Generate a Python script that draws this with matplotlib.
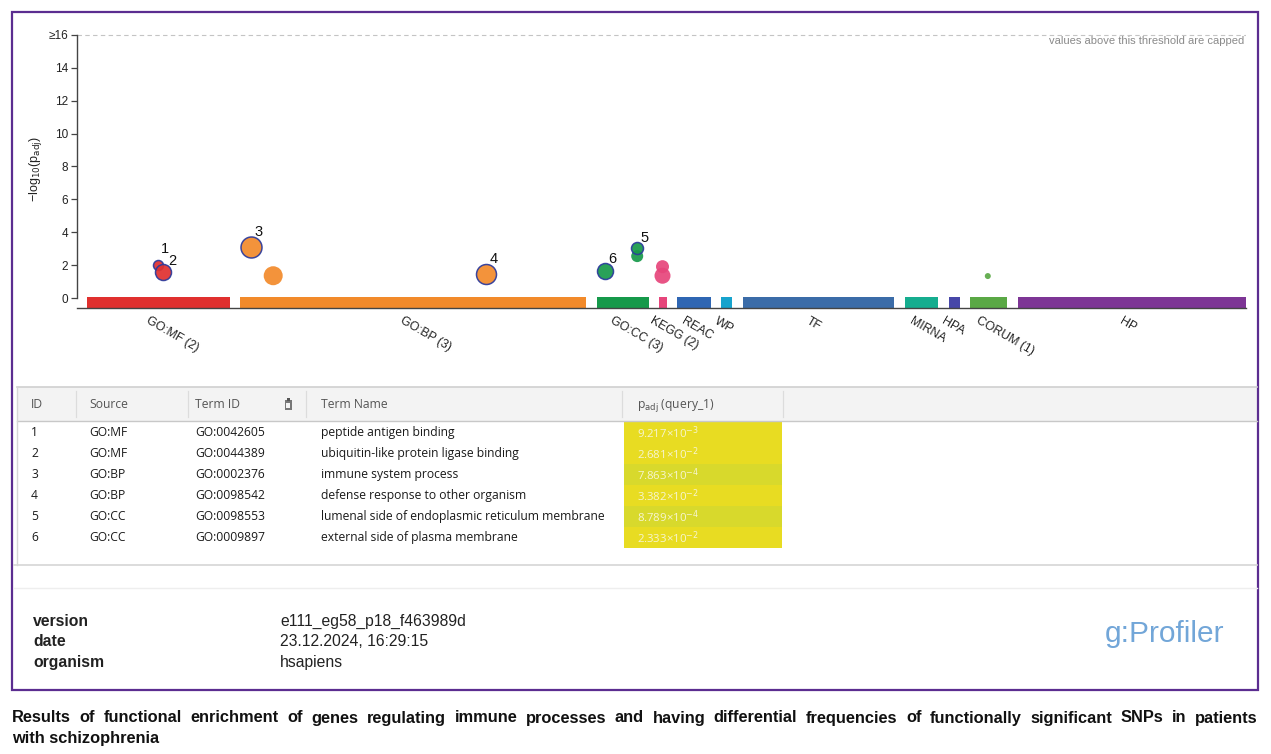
import matplotlib
matplotlib.use('Agg')
import matplotlib.pyplot as plt
from matplotlib.patches import Rectangle

W, H, DPI = 1271, 754, 100

# ---------------- data ----------------
sources = ['GO:MF', 'GO:BP', 'GO:CC', 'KEGG', 'REAC', 'WP', 'TF', 'MIRNA', 'HPA', 'CORUM', 'HP']
source_labels = ['GO:MF (2)', 'GO:BP (3)', 'GO:CC (3)', 'KEGG (2)', 'REAC', 'WP', 'TF',
                 'MIRNA', 'HPA', 'CORUM (1)', 'HP']
source_start = [10, 163, 520, 582, 600, 644, 666, 828, 872, 893, 941]
source_end = [153, 509, 572, 590, 634, 655, 817, 861, 883, 930, 1169]
source_colors = ['#e0302e', '#f28a2a', '#16994a', '#e6457b', '#2f66b3', '#17a3cd',
                 '#3b6ca8', '#15ad8f', '#4747a8', '#5aa845', '#7d3595']

term_source = ['GO:MF', 'GO:MF', 'GO:BP', 'GO:BP', 'GO:BP', 'GO:CC', 'GO:CC', 'GO:CC',
               'KEGG', 'KEGG', 'CORUM']
term_pos = [81.7, 86.3, 174.7, 196.7, 409.3, 528.7, 560.7, 560.7, 586.0, 586.0, 911.3]
term_value = [2.04, 1.57, 3.10, 1.37, 1.47, 1.63, 3.06, 2.56, 1.92, 1.37, 1.35]
term_size = [10, 16, 21, 19, 20, 16, 12, 12, 13, 16, 6]
term_label = ['1', '2', '3', '', '4', '6', '5', '', '', '', '']

y_ticks = [0, 2, 4, 6, 8, 10, 12, 14, 16]
y_ticklabels = ['0', '2', '4', '6', '8', '10', '12', '14', '\u226516']

table_ids = ['1', '2', '3', '4', '5', '6']
table_sources = ['GO:MF', 'GO:MF', 'GO:BP', 'GO:BP', 'GO:CC', 'GO:CC']
table_term_ids = ['GO:0042605', 'GO:0044389', 'GO:0002376', 'GO:0098542',
                  'GO:0098553', 'GO:0009897']
table_term_names = ['peptide antigen binding', 'ubiquitin-like protein ligase binding',
                    'immune system process', 'defense response to other organism',
                    'lumenal side of endoplasmic reticulum membrane',
                    'external side of plasma membrane']
table_padj_mant = ['9.217', '2.681', '7.863', '3.382', '8.789', '2.333']
table_padj_exp = [-3, -2, -4, -2, -4, -2]

footer_keys = ['version', 'date', 'organism']
footer_values = ['e111_eg58_p18_f463989d', '23.12.2024, 16:29:15', 'hsapiens']
caption_lines = ['Results of functional enrichment of genes regulating immune processes and having '
                 'differential frequencies of functionally significant SNPs in patients',
                 'with schizophrenia']

# ---------------- figure ----------------
plt.rcParams['font.family'] = ['Liberation Sans', 'DejaVu Sans']
fig = plt.figure(figsize=(W / DPI, H / DPI), dpi=DPI)
fig.patch.set_facecolor('white')

bg = fig.add_axes([0, 0, 1, 1], zorder=0)
bg.set_xlim(0, W)
bg.set_ylim(H, 0)
bg.axis('off')

# main Manhattan-plot axes (pixel layout)
ax_l, ax_r, ax_t, ax_b = 76.5, 1245.5, 30.0, 308.3
ax = fig.add_axes([ax_l / W, 1 - ax_b / H, (ax_r - ax_l) / W, (ax_b - ax_t) / H], zorder=2)
ax.patch.set_alpha(0)
px_per_unit = (298.3 - 34.7) / 16.0
ax.set_xlim(0, ax_r - ax_l)
ax.set_ylim(-(ax_b - 298.3) / px_per_unit, 16 + (34.7 - ax_t) / px_per_unit)

for s in ['top', 'right']:
    ax.spines[s].set_visible(False)
ax.spines['left'].set_bounds(0, 16)
ax.spines['left'].set_color('#444444')
ax.spines['left'].set_linewidth(1.0)
ax.spines['bottom'].set_color('#444444')
ax.spines['bottom'].set_linewidth(1.0)
ax.set_xticks([])
ax.set_yticks(y_ticks)
ax.set_yticklabels(y_ticklabels)
ax.tick_params(axis='y', direction='out', length=4, width=0.9, color='#444444',
               labelsize=8.5, labelcolor='#222222', pad=2)
ax.set_ylabel('\u2212log$_{10}$(p$_{\\mathrm{adj}}$)', fontsize=9, color='#222222', labelpad=3)

# source bars
for st, en, c in zip(source_start, source_end, source_colors):
    ax.bar(st, 0.62, width=en - st, bottom=-0.56, align='edge', color=c, linewidth=0, zorder=2)

# source labels
for st, en, lab in zip(source_start, source_end, source_labels):
    ax.annotate(lab, xy=((st + en) / 2, ax.get_ylim()[0]), xycoords='data',
                xytext=(-11 * 0.72, -12 * 0.72), textcoords='offset points',
                rotation=-30, rotation_mode='anchor', ha='left', va='center',
                fontsize=8.8, color='#222222', annotation_clip=False)

# threshold line + note
ax.axhline(16, color='#c4c4c4', lw=0.8, ls=(0, (4, 3)), zorder=1)
ax.annotate('values above this threshold are capped', xy=(1, 16), xycoords=('axes fraction', 'data'),
            xytext=(-1, -6 * 0.72), textcoords='offset points', ha='right', va='center',
            fontsize=8, color='#8a8a8a')

# points
color_of = dict(zip(sources, source_colors))
label_nudge = {'1': (3.0, 12.0), '2': (5.8, 7.5), '3': (3.6, 11.0), '4': (3.4, 10.7),
               '5': (3.3, 6.0), '6': (2.6, 8.0)}
order = [i for i in range(len(term_pos)) if not term_label[i]] + \
        [i for i in range(len(term_pos)) if term_label[i]]
for k, i in enumerate(order):
    lab = term_label[i]
    ax.scatter([term_pos[i]], [term_value[i]], s=(term_size[i] * 0.72) ** 2,
               color=color_of[term_source[i]], alpha=0.92,
               edgecolors='#2b3a9c' if lab else 'none', linewidths=1.1 if lab else 0,
               zorder=3 + k)
for i, lab in enumerate(term_label):
    if lab:
        dx, dy = label_nudge[lab]
        ax.annotate(lab, xy=(term_pos[i], term_value[i]), xytext=(dx * 0.72, dy * 0.72),
                    textcoords='offset points', ha='left', va='baseline', fontsize=10.5,
                    color='#111111', zorder=20)

# ---------------- table ----------------
tfont = ['Open Sans', 'DejaVu Sans']
bg.add_patch(Rectangle((17, 387), 1257 - 17, 421 - 387, facecolor='#f3f3f3', edgecolor='none'))
bg.plot([17, 1257], [387, 387], color='#cfcfcf', lw=1.2)
bg.plot([17, 1257], [421, 421], color='#c8c8c8', lw=1.0)
bg.plot([17, 17], [387, 565], color='#d6d6d6', lw=1.0)
bg.plot([14, 1257], [565, 565], color='#d6d6d6', lw=1.2)
bg.plot([14, 1257], [588, 588], color='#eeeeee', lw=1.0)
for xs in [76, 188, 306, 622, 783]:
    bg.plot([xs, xs], [391, 417], color='#dcdcdc', lw=0.9)

col_x = [31, 89, 195, 321, 637]
headers = ['ID', 'Source', 'Term ID', 'Term Name', 'p$_{\\mathrm{adj}}$ (query_1)']
for x, h in zip(col_x, headers):
    bg.text(x, 405, h, ha='left', va='center', fontsize=8.7, color='#555555', family=tfont)
# small clipboard icon in header
bg.add_patch(Rectangle((284.5, 400), 7, 10, facecolor='#777777', edgecolor='none'))
bg.add_patch(Rectangle((286.5, 398), 3, 3, facecolor='#555555', edgecolor='none'))
bg.add_patch(Rectangle((286, 403), 4, 5, facecolor='#f3f3f3', edgecolor='none'))

row_h = 21
for i in range(len(table_ids)):
    y0 = 422 + i * row_h
    yc = y0 + row_h / 2
    strong = 10.0 ** table_padj_exp[i] < 1e-3
    bg.add_patch(Rectangle((624, y0), 782 - 624, row_h,
                           facecolor='#d8d92c' if strong else '#e8dc22', edgecolor='none'))
    for x, txt in zip(col_x[:4], [table_ids[i], table_sources[i], table_term_ids[i],
                                  table_term_names[i]]):
        bg.text(x, yc, txt, ha='left', va='center', fontsize=8.7, color='#1a1a1a', family=tfont)
    bg.text(637, yc, '%s\u00d710$^{%d}$' % (table_padj_mant[i], table_padj_exp[i]),
            ha='left', va='center', fontsize=8.2, color='#f7f5d0', family=tfont)

# ---------------- footer ----------------
for k, (key, val) in enumerate(zip(footer_keys, footer_values)):
    y = 621 + k * 20.5
    bg.text(33, y, key, ha='left', va='center', fontsize=11.3, fontweight='bold', color='#222222')
    bg.text(280, y, val, ha='left', va='center', fontsize=11.3, color='#222222')
bg.text(1105, 634, 'g:Profiler', ha='left', va='center', fontsize=21.5, color='#72a6d8')

# purple frame
bg.add_patch(Rectangle((12, 12), 1258 - 12, 690 - 12, facecolor='none', edgecolor='#5b2d90', lw=1.6))

# ---------------- caption (justified first line) ----------------
renderer = fig.canvas.get_renderer()
cap_size = 11.8
words = caption_lines[0].split()
probe = bg.text(0, 0, ' '.join(words), fontsize=cap_size, fontweight='bold')
natural = probe.get_window_extent(renderer).width
probe.remove()
if natural > 1246 * 0.985:
    cap_size *= 1246 * 0.985 / natural
texts = [bg.text(0, 722.5, w, ha='left', va='baseline', fontsize=cap_size, fontweight='bold',
                 color='#111111') for w in words]
widths = [t.get_window_extent(renderer).width for t in texts]
gap = (1258 - 12 - sum(widths)) / (len(words) - 1)
x = 12
for t, wd in zip(texts, widths):
    t.set_x(x)
    x += wd + gap
bg.text(12, 742.5, caption_lines[1], ha='left', va='baseline', fontsize=cap_size, fontweight='bold',
        color='#111111')

fig.savefig('out.png', dpi=DPI)
